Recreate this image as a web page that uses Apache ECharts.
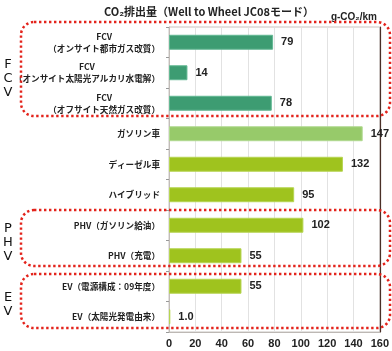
<!DOCTYPE html>
<html>
<head>
<meta charset="utf-8">
<script src="https://cdn.jsdelivr.net/npm/echarts@6/dist/echarts.min.js"></script>
<style>
  html, body { margin: 0; padding: 0; background: #fff; }
  #chart { width: 392px; height: 351px; }
</style>
</head>
<body>
<div id="chart"></div>
<script>
// data
const categories = [
  'FCV\n（オンサイト都市ガス改質）',
  'FCV\n（オンサイト太陽光アルカリ水電解）',
  'FCV\n（オフサイト天然ガス改質）',
  'ガソリン車',
  'ディーゼル車',
  'ハイブリッド',
  'PHV（ガソリン給油）',
  'PHV（充電）',
  'EV（電源構成：09年度）',
  'EV（太陽光発電由来）'
]
const co2Values = [79, 14, 78, 147, 132, 95, 102, 55, 55, 1.0]
const xTicks = [0, 20, 40, 60, 80, 100, 120, 140, 160]

const FONT = '"Noto Sans CJK JP", "Liberation Sans", sans-serif'
const NUM_FONT = '"Liberation Sans", Arial, sans-serif'

const barColor = idx => {
  if ( idx < 3 ) return '#3d9c72'
  if ( idx === 3 ) return '#97ca6a'
  return '#9fc31e'
}
const barBorder = idx => {
  if ( idx < 3 ) return '#62b893'
  if ( idx === 3 ) return '#b0d990'
  return '#b6d552'
}

const chart = echarts.init( document.getElementById( 'chart' ), null, { renderer : 'canvas' } )

// dotted group frames + side letters
const frame = ( x, y, w, h ) => ( {
  type : 'rect',
  shape : { x, y, width : w, height : h, r : 13 },
  style : { fill : 'none', stroke : '#e3231b', lineWidth : 2.5, lineDash : [ 2.4, 2.6 ] },
  z : 100
} )
const sideText = ( text, cy, lines ) => ( {
  type : 'text',
  x : 8,
  y : cy - lines * 7,
  style : {
    text,
    font : '13px "DejaVu Sans", sans-serif',
    fill : '#111',
    align : 'center',
    verticalAlign : 'top',
    lineHeight : 14
  }
} )

chart.setOption( {
  animation : false,
  title : {
    text : 'CO₂排出量（Well to Wheel JC08モード）',
    left : 204,
    top : 1,
    textAlign : 'center',
    textStyle : { fontFamily : FONT, fontSize : 11, fontWeight : 'bold', color : '#222' }
  },
  grid : {
    left : 169,
    right : 12,
    top : 27,
    bottom : 19,
    containLabel : false,
    show : true,
    borderColor : '#c9c4c0',
    borderWidth : 1
  },
  xAxis : {
    type : 'value',
    min : xTicks[0],
    max : xTicks[xTicks.length - 1],
    interval : 20,
    axisLine : { show : true, lineStyle : { color : '#bdb8b4' } },
    axisTick : { show : false },
    splitLine : { lineStyle : { color : '#e2e2e2' } },
    axisLabel : {
      margin : 6,
      fontFamily : NUM_FONT,
      fontSize : 11,
      fontWeight : 'bold',
      color : '#222'
    }
  },
  yAxis : [
    {
      type : 'category',
      inverse : true,
      data : categories,
      axisLine : { show : true, lineStyle : { color : '#c2bdb9' } },
      axisTick : { show : true, length : 3, lineStyle : { color : '#999' } },
      axisLabel : {
        margin : 9,
        fontFamily : FONT,
        fontSize : 8.6,
        fontWeight : 'bold',
        color : '#222',
        lineHeight : 12,
        formatter : v => v.split( '\n' ).map( s => '{c|' + s + '}' ).join( '\n' ),
        rich : {
          c : {
            align : 'center',
            fontFamily : FONT,
            fontSize : 8.6,
            fontWeight : 'bold',
            color : '#222',
            lineHeight : 12
          }
        }
      }
    },
    {
      type : 'category',
      inverse : true,
      position : 'right',
      data : categories,
      axisLine : { show : true, lineStyle : { color : '#4a2f27', width : 1.2 } },
      axisTick : { show : false },
      axisLabel : { show : false }
    }
  ],
  series : [
    {
      name : 'CO2',
      type : 'bar',
      barWidth : '49%',
      data : co2Values.map( ( v, i ) => ( {
        value : v,
        itemStyle : { color : barColor( i ), borderColor : barBorder( i ), borderWidth : 1 }
      } ) ),
      label : {
        show : true,
        position : 'right',
        distance : 8,
        fontFamily : NUM_FONT,
        fontSize : 11,
        fontWeight : 'bold',
        color : '#222',
        formatter : p => p.value < 10 ? p.value.toFixed( 1 ) : String( p.value )
      }
    }
  ],
  graphic : [
    {
      type : 'text',
      right : 15,
      top : 12,
      style : {
        text : 'g-CO₂/km',
        font : 'bold 10px ' + NUM_FONT,
        fill : '#222'
      }
    },
    frame( 21, 22, 369, 94 ),
    frame( 21, 210, 369, 56 ),
    frame( 21, 274, 369, 54 ),
    sideText( 'F\nC\nV', 79, 3 ),
    sideText( 'P\nH\nV', 243, 3 ),
    sideText( 'E\nV', 305, 2 )
  ]
} )

window.addEventListener( 'resize', () => chart.resize() )
</script>
</body>
</html>
